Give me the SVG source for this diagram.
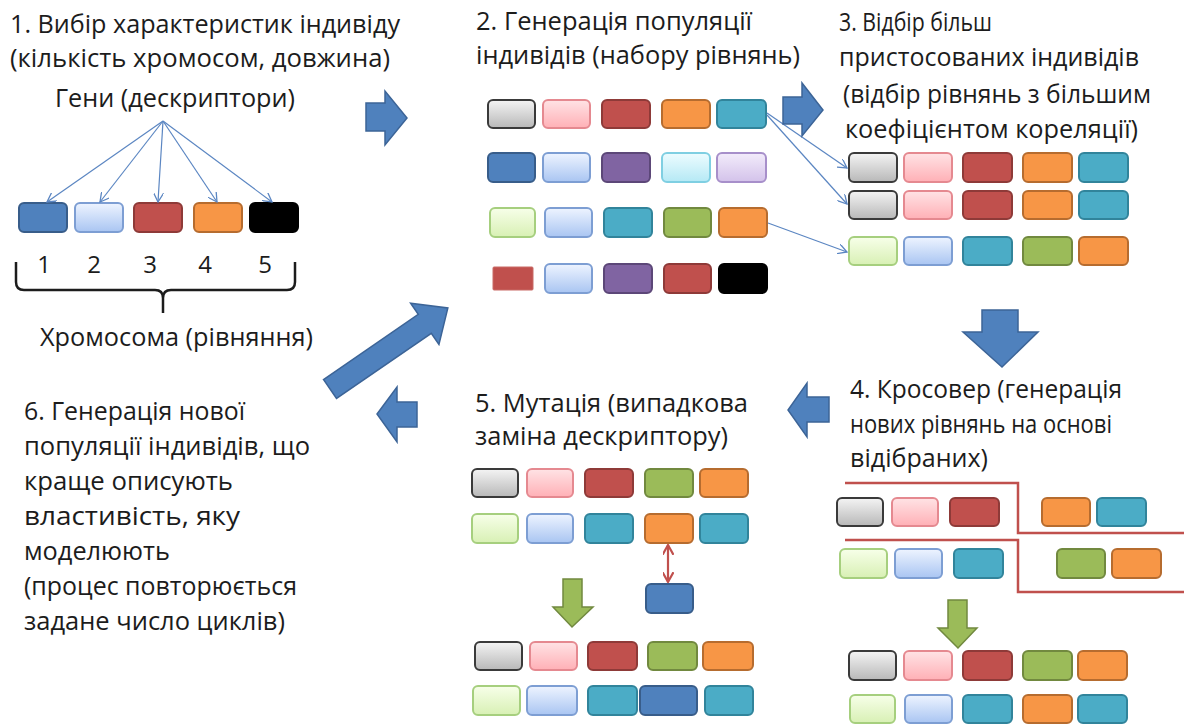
<svg xmlns="http://www.w3.org/2000/svg" width="1184" height="724" viewBox="0 0 1184 724">
<defs>
<linearGradient id="gG" x1="0" y1="0" x2="0" y2="1"><stop offset="0" stop-color="#f4f4f4"/><stop offset="1" stop-color="#b8b8b8"/></linearGradient>
<linearGradient id="gP" x1="0" y1="0" x2="0" y2="1"><stop offset="0" stop-color="#ffe3e5"/><stop offset="1" stop-color="#ffb0b6"/></linearGradient>
<linearGradient id="gLB" x1="0" y1="0" x2="0" y2="1"><stop offset="0" stop-color="#eef4ff"/><stop offset="1" stop-color="#a9c5f2"/></linearGradient>
<linearGradient id="gLG" x1="0" y1="0" x2="0" y2="1"><stop offset="0" stop-color="#f7ffe9"/><stop offset="1" stop-color="#d8f0b4"/></linearGradient>
<linearGradient id="gLC" x1="0" y1="0" x2="0" y2="1"><stop offset="0" stop-color="#edfcff"/><stop offset="1" stop-color="#b5e9f5"/></linearGradient>
<linearGradient id="gLV" x1="0" y1="0" x2="0" y2="1"><stop offset="0" stop-color="#f3ecfb"/><stop offset="1" stop-color="#d3c2ea"/></linearGradient>
<marker id="ah" viewBox="0 0 10 10" refX="9" refY="5" markerWidth="10" markerHeight="10" markerUnits="userSpaceOnUse" orient="auto"><path d="M0,0 L9,5 L0,10" fill="none" stroke="#5b86c2" stroke-width="1.3"/></marker>
<marker id="ahr" viewBox="0 0 10 10" refX="9" refY="5" markerWidth="11" markerHeight="11" markerUnits="userSpaceOnUse" orient="auto-start-reverse"><path d="M0,0 L9,5 L0,10" fill="none" stroke="#c0504d" stroke-width="2"/></marker>
</defs>
<style>
text{font-family:"Open Sans","Liberation Sans",sans-serif;font-size:25px;fill:#1c1c1c}
.num{font-size:24px}
rect{stroke-width:2}
.g{fill:url(#gG);stroke:#3a3a3a}
.p{fill:url(#gP);stroke:#e58990}
.lb{fill:url(#gLB);stroke:#7d9ed3}
.lg{fill:url(#gLG);stroke:#a6cf7e}
.lc{fill:url(#gLC);stroke:#7fcfe2}
.lv{fill:url(#gLV);stroke:#a78fca}
.r{fill:#c0504d;stroke:#8e3a38}
.o{fill:#f79646;stroke:#b66c2f}
.t{fill:#4bacc6;stroke:#31849b}
.b{fill:#4f81bd;stroke:#385d8a}
.pu{fill:#8064a2;stroke:#5c4778}
.gr{fill:#9bbb59;stroke:#71893f}
.k{fill:#000;stroke:#000}
.sq{fill:#c0504d;stroke:#c96a67;stroke-width:1}
.barrow{fill:#4f81bd;stroke:#3c6497;stroke-width:1.5}
.garrow{fill:#9bbb59;stroke:#71893f;stroke-width:1.5}
.con{stroke:#5b86c2;stroke-width:1.2;fill:none}
.cut{stroke:#c0504d;stroke-width:2.5;fill:none}
.brace{stroke:#1c1c1c;stroke-width:2.5;fill:none}
</style>

<g id="step1">
<text x="10" y="33" textLength="390" lengthAdjust="spacingAndGlyphs">1. Вибір характеристик індивіду</text>
<text x="10" y="67" textLength="380" lengthAdjust="spacingAndGlyphs">(кількість хромосом, довжина)</text>
<text x="55" y="107" textLength="240" lengthAdjust="spacingAndGlyphs">Гени (дескриптори)</text>
<rect class="b" x="19" y="203" width="48" height="29" rx="5"/>
<rect class="lb" x="75" y="203" width="48" height="29" rx="5"/>
<rect class="r" x="134" y="203" width="48" height="29" rx="5"/>
<rect class="o" x="194" y="203" width="48" height="29" rx="5"/>
<rect class="k" x="250" y="203" width="48" height="29" rx="5"/>
<text class="num" x="44" y="273" text-anchor="middle">1</text>
<text class="num" x="94" y="273" text-anchor="middle">2</text>
<text class="num" x="150" y="273" text-anchor="middle">3</text>
<text class="num" x="205" y="273" text-anchor="middle">4</text>
<text class="num" x="265" y="273" text-anchor="middle">5</text>
<path class="brace" d="M16,262 V282 Q16,290 24,290 H155 Q163,290 163,298 V313 M163,298 Q163,290 171,290 H287 Q295,290 295,282 V262"/>
<text x="40" y="346" textLength="273" lengthAdjust="spacingAndGlyphs">Хромосома (рівняння)</text>
</g>

<g id="step2">
<text x="476" y="30" textLength="276" lengthAdjust="spacingAndGlyphs">2. Генерація популяції</text>
<text x="476" y="64" textLength="324" lengthAdjust="spacingAndGlyphs">індивідів (набору рівнянь)</text>
<rect class="g" x="488" y="100" width="47" height="28" rx="5"/>
<rect class="p" x="543" y="100" width="47" height="28" rx="5"/>
<rect class="r" x="602" y="100" width="48" height="28" rx="5"/>
<rect class="o" x="662" y="100" width="48" height="28" rx="5"/>
<rect class="t" x="717" y="100" width="49" height="28" rx="5"/>
<rect class="b" x="488" y="153" width="47" height="29" rx="5"/>
<rect class="lb" x="543" y="153" width="47" height="29" rx="5"/>
<rect class="pu" x="602" y="153" width="48" height="29" rx="5"/>
<rect class="lc" x="662" y="153" width="48" height="29" rx="5"/>
<rect class="lv" x="717" y="153" width="49" height="29" rx="5"/>
<rect class="lg" x="490" y="208" width="45" height="29" rx="5"/>
<rect class="lb" x="545" y="208" width="47" height="29" rx="5"/>
<rect class="t" x="604" y="208" width="48" height="29" rx="5"/>
<rect class="gr" x="664" y="208" width="47" height="29" rx="5"/>
<rect class="o" x="719" y="208" width="48" height="29" rx="5"/>
<rect class="sq" x="493" y="267" width="40" height="23" rx="1"/>
<rect class="lb" x="545" y="264" width="47" height="29" rx="5"/>
<rect class="pu" x="604" y="264" width="48" height="29" rx="5"/>
<rect class="r" x="664" y="264" width="47" height="29" rx="5"/>
<rect class="k" x="719" y="264" width="48" height="29" rx="5"/>
</g>

<g id="step3">
<text x="839" y="31" textLength="153" lengthAdjust="spacingAndGlyphs">3. Відбір більш</text>
<text x="839" y="66" textLength="300" lengthAdjust="spacingAndGlyphs">пристосованих індивідів</text>
<text x="843" y="103" textLength="308" lengthAdjust="spacingAndGlyphs">(відбір рівнянь з більшим</text>
<text x="845" y="138" textLength="293" lengthAdjust="spacingAndGlyphs">коефіцієнтом кореляції)</text>
<rect class="g" x="849" y="153" width="48" height="29" rx="5"/>
<rect class="p" x="904" y="153" width="48" height="29" rx="5"/>
<rect class="r" x="963" y="153" width="49" height="29" rx="5"/>
<rect class="o" x="1023" y="153" width="49" height="29" rx="5"/>
<rect class="t" x="1079" y="153" width="49" height="29" rx="5"/>
<rect class="g" x="849" y="191" width="48" height="28" rx="5"/>
<rect class="p" x="904" y="191" width="48" height="28" rx="5"/>
<rect class="r" x="963" y="191" width="49" height="28" rx="5"/>
<rect class="o" x="1023" y="191" width="49" height="28" rx="5"/>
<rect class="t" x="1079" y="191" width="49" height="28" rx="5"/>
<rect class="lg" x="849" y="237" width="48" height="28" rx="5"/>
<rect class="lb" x="904" y="237" width="48" height="28" rx="5"/>
<rect class="t" x="963" y="237" width="49" height="28" rx="5"/>
<rect class="gr" x="1023" y="237" width="49" height="28" rx="5"/>
<rect class="o" x="1079" y="237" width="49" height="28" rx="5"/>
</g>

<g id="step4">
<text x="850" y="398" textLength="272" lengthAdjust="spacingAndGlyphs">4. Кросовер (генерація</text>
<text x="850" y="433" textLength="262" lengthAdjust="spacingAndGlyphs">нових рівнянь на основі</text>
<text x="850" y="467" textLength="138" lengthAdjust="spacingAndGlyphs">відібраних)</text>
<path class="cut" d="M845,483 H1018 V533 H1184"/>
<path class="cut" d="M845,540 H1018 V592 H1184"/>
<rect class="g" x="837" y="498" width="46" height="28" rx="5"/>
<rect class="p" x="892" y="498" width="46" height="28" rx="5"/>
<rect class="r" x="950" y="498" width="49" height="28" rx="5"/>
<rect class="o" x="1042" y="498" width="48" height="28" rx="5"/>
<rect class="t" x="1097" y="498" width="49" height="28" rx="5"/>
<rect class="lg" x="840" y="549" width="47" height="29" rx="5"/>
<rect class="lb" x="895" y="549" width="47" height="29" rx="5"/>
<rect class="t" x="954" y="549" width="49" height="29" rx="5"/>
<rect class="gr" x="1057" y="549" width="48" height="29" rx="5"/>
<rect class="o" x="1112" y="549" width="49" height="29" rx="5"/>
<polygon class="garrow" points="948,600 967,600 967,628 977,628 958,648 938,628 948,628"/>
<rect class="g" x="849" y="651" width="47" height="29" rx="5"/>
<rect class="p" x="904" y="651" width="48" height="29" rx="5"/>
<rect class="r" x="963" y="651" width="49" height="29" rx="5"/>
<rect class="gr" x="1023" y="651" width="49" height="29" rx="5"/>
<rect class="o" x="1078" y="651" width="49" height="29" rx="5"/>
<rect class="lg" x="850" y="695" width="45" height="28" rx="5"/>
<rect class="lb" x="905" y="695" width="47" height="28" rx="5"/>
<rect class="t" x="963" y="695" width="49" height="28" rx="5"/>
<rect class="o" x="1023" y="695" width="49" height="28" rx="5"/>
<rect class="t" x="1078" y="695" width="49" height="28" rx="5"/>
</g>

<g id="step5">
<text x="475" y="412" textLength="273" lengthAdjust="spacingAndGlyphs">5. Мутація (випадкова</text>
<text x="475" y="445" textLength="253" lengthAdjust="spacingAndGlyphs">заміна дескриптору)</text>
<rect class="g" x="472" y="469" width="46" height="28" rx="5"/>
<rect class="p" x="527" y="469" width="46" height="28" rx="5"/>
<rect class="r" x="585" y="469" width="48" height="28" rx="5"/>
<rect class="gr" x="645" y="469" width="48" height="28" rx="5"/>
<rect class="o" x="700" y="469" width="48" height="28" rx="5"/>
<rect class="lg" x="472" y="514" width="46" height="29" rx="5"/>
<rect class="lb" x="527" y="514" width="46" height="29" rx="5"/>
<rect class="t" x="585" y="514" width="48" height="29" rx="5"/>
<rect class="o" x="645" y="514" width="48" height="29" rx="5"/>
<rect class="t" x="700" y="514" width="48" height="29" rx="5"/>
<line x1="668" y1="545" x2="668" y2="582" stroke="#c0504d" stroke-width="2.2" marker-start="url(#ahr)" marker-end="url(#ahr)"/>
<rect class="b" x="646" y="584" width="47" height="29" rx="5"/>
<polygon class="garrow" points="563,579 582,579 582,607 593,607 572,627 553,607 563,607"/>
<rect class="g" x="475" y="642" width="47" height="28" rx="5"/>
<rect class="p" x="530" y="642" width="47" height="28" rx="5"/>
<rect class="r" x="588" y="642" width="49" height="28" rx="5"/>
<rect class="gr" x="648" y="642" width="49" height="28" rx="5"/>
<rect class="o" x="703" y="642" width="50" height="28" rx="5"/>
<rect class="lg" x="473" y="686" width="47" height="29" rx="5"/>
<rect class="lb" x="527" y="686" width="50" height="29" rx="5"/>
<rect class="t" x="588" y="686" width="49" height="29" rx="5"/>
<rect class="b" x="640" y="686" width="57" height="29" rx="5"/>
<rect class="t" x="705" y="686" width="48" height="29" rx="5"/>
</g>

<g id="step6">
<text x="24" y="420" textLength="221" lengthAdjust="spacingAndGlyphs">6. Генерація нової</text>
<text x="24" y="455" textLength="286" lengthAdjust="spacingAndGlyphs">популяції  індивідів, що</text>
<text x="24" y="490" textLength="209" lengthAdjust="spacingAndGlyphs">краще описують</text>
<text x="24" y="525" textLength="216" lengthAdjust="spacingAndGlyphs">властивість, яку</text>
<text x="24" y="560" textLength="146" lengthAdjust="spacingAndGlyphs">моделюють</text>
<text x="24" y="595" textLength="273" lengthAdjust="spacingAndGlyphs">(процес повторюється</text>
<text x="24" y="630" textLength="261" lengthAdjust="spacingAndGlyphs">задане число циклів)</text>
</g>

<g id="connectors">
<line class="con" x1="163" y1="121" x2="47" y2="202" marker-end="url(#ah)"/>
<line class="con" x1="163" y1="121" x2="100" y2="202" marker-end="url(#ah)"/>
<line class="con" x1="163" y1="121" x2="158" y2="202" marker-end="url(#ah)"/>
<line class="con" x1="163" y1="121" x2="217" y2="202" marker-end="url(#ah)"/>
<line class="con" x1="163" y1="121" x2="272" y2="202" marker-end="url(#ah)"/>
<line class="con" x1="767" y1="113" x2="847" y2="168" marker-end="url(#ah)"/>
<line class="con" x1="767" y1="115" x2="847" y2="204" marker-end="url(#ah)"/>
<line class="con" x1="768" y1="223" x2="847" y2="252" marker-end="url(#ah)"/>
<polygon class="barrow" points="366,103 385,103 385,91 407,118 385,145 385,131 366,131"/>
<polygon class="barrow" points="783,97 802,97 802,83 823,110 802,136 802,124 783,124"/>
<polygon class="barrow" points="982,310 1018,310 1018,332 1038,332 1002,367 963,332 982,332"/>
<polygon class="barrow" points="829,397 807,397 807,383 788,410 807,437 807,422 829,422"/>
<polygon class="barrow" points="417,402 397,402 397,387 377,414 397,442 397,427 417,427"/>
<polygon class="barrow" transform="translate(330,389) rotate(-34.5)" points="0,-11.5 115,-11.5 115,-25 143,0 115,25 115,11.5 0,11.5"/>
</g>
</svg>
